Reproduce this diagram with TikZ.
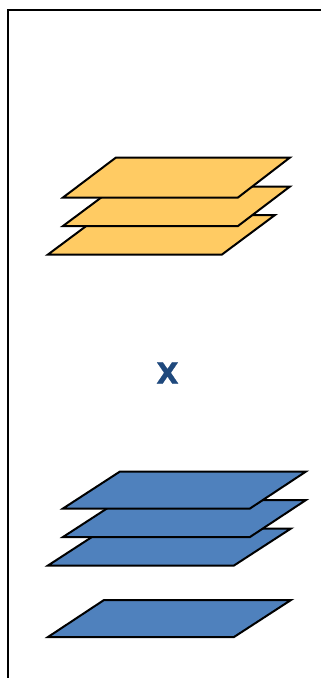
\documentclass[tikz,border=0pt]{standalone}
\usepackage{fontspec}
\setmainfont{DejaVu Sans}
\newfontfamily\labelfont[FakeBold=0.8]{DejaVu Sans Bold}
\definecolor{plateorange}{HTML}{FFCB63}
\definecolor{plateblue}{HTML}{4F81BD}
\definecolor{labelblue}{HTML}{1F497D}
\tikzset{
  frameline/.style={draw=black,line width=2pt,line cap=butt},
  orangeplate/.style={draw=black,fill=plateorange,line width=2pt,line join=miter},
  blueplate/.style={draw=black,fill=plateblue,line width=2pt,line join=miter},
  biglabel/.style={text=labelblue,font=\fontsize{29}{32}\labelfont,inner sep=0pt}
}
\begin{document}
\begin{tikzpicture}[x=1pt,y=-1pt]
\useasboundingbox (0,0) rectangle (321,678);
\draw[frameline] (8,678) -- (8,10) -- (321,10);
% orange stack, bottom to top
\draw[orangeplate] (48,254.5) -- (101,215) -- (275,215) -- (222,254.5) -- cycle;
\draw[orangeplate] (63,226) -- (116,186.5) -- (290,186.5) -- (238,226) -- cycle;
\draw[orangeplate] (63,197.5) -- (116,157.5) -- (290,157.5) -- (238,197.5) -- cycle;
\node[biglabel] (x) at (167.5,373) {X};
% blue stack, bottom to top
\draw[blueplate] (48,637) -- (104,600) -- (291,600) -- (234,637) -- cycle;
\draw[blueplate] (48,565.5) -- (105,528.5) -- (291,528.5) -- (234,565.5) -- cycle;
\draw[blueplate] (63,537) -- (120,500) -- (306,500) -- (250,537) -- cycle;
\draw[blueplate] (63,508.5) -- (120,471.5) -- (306,471.5) -- (250,508.5) -- cycle;
\end{tikzpicture}
\end{document}
